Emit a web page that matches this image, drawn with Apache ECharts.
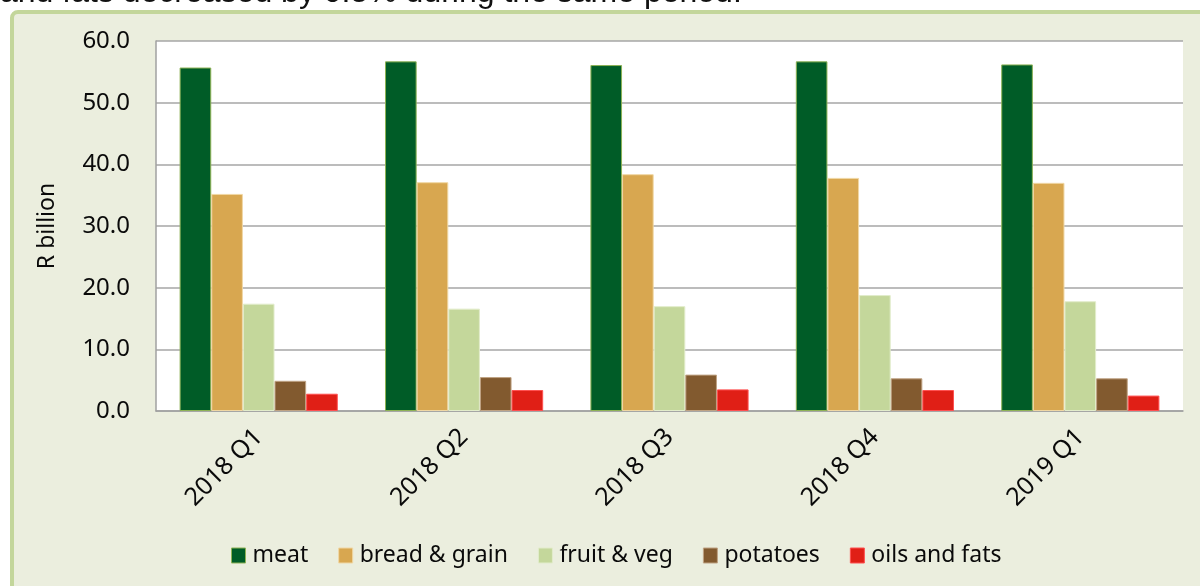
<!DOCTYPE html>
<html>
<head>
<meta charset="utf-8">
<title>Food spending by quarter</title>
<script src="https://cdn.jsdelivr.net/npm/echarts@6/dist/echarts.min.js"></script>
<style>
  html, body { margin: 0; padding: 0; background: #ffffff; }
  #chart { width: 1200px; height: 586px; }
</style>
</head>
<body>
<div id="chart"></div>
<script>
// Quarterly spending per food group, R billion
const quarters = ['2018 Q1', '2018 Q2', '2018 Q3', '2018 Q4', '2019 Q1'];
const meat = [55.7, 56.7, 56.1, 56.7, 56.2];
const breadGrain = [35.2, 37.1, 38.4, 37.8, 37.0];
const fruitVeg = [17.4, 16.6, 17.0, 18.8, 17.8];
const potatoes = [4.9, 5.5, 5.9, 5.3, 5.3];
const oilsFats = [2.8, 3.4, 3.5, 3.4, 2.5];
const yTicks = { min: 0, max: 60, interval: 10 };
const introLine = 'and fats decreased by 0.5% during the same period.';

const seriesDefs = [
  { name: 'meat', data: meat, color: '#005C27', border: '#8DB255' },
  { name: 'bread & grain', data: breadGrain, color: '#D8A750', border: '#F0D7A4' },
  { name: 'fruit & veg', data: fruitVeg, color: '#C4D79B', border: '#E2ECCB' },
  { name: 'potatoes', data: potatoes, color: '#825A2F', border: '#BFA283' },
  { name: 'oils and fats', data: oilsFats, color: '#E01F16', border: '#FF5050' }
];

const font = '"Noto Sans", "Open Sans", sans-serif';
const ink = '#0A0A0A';
const chart = echarts.init(document.getElementById('chart'), null, { renderer: 'canvas' });

chart.setOption({
  animation: false,
  backgroundColor: '#ffffff',
  graphic: [
    {
      type: 'rect',
      z: -10,
      shape: { x: 12, y: 12, width: 1200, height: 600, r: 6 },
      style: { fill: '#EBEEDE', stroke: '#C3D69B', lineWidth: 4 }
    },
    {
      type: 'text',
      left: 0,
      top: -23,
      style: {
        text: introLine,
        fill: '#111111',
        font: '32px "Liberation Sans", Arial, sans-serif'
      }
    }
  ],
  grid: {
    left: 156, right: 17, top: 41, bottom: 175,
    show: true, backgroundColor: '#ffffff', borderWidth: 0
  },
  legend: {
    left: 226,
    top: 539,
    itemWidth: 14,
    itemHeight: 15,
    itemGap: 30,
    icon: 'rect',
    textStyle: { fontFamily: font, fontSize: 23, color: ink, padding: [0, 0, 0, 2] },
    data: seriesDefs.map(s => ({
      name: s.name,
      itemStyle: { color: s.color, borderColor: s.border, borderWidth: 1 }
    }))
  },
  xAxis: {
    type: 'category',
    data: quarters,
    axisTick: { show: false },
    axisLine: { lineStyle: { color: '#A0A0A0', width: 1.5 } },
    axisLabel: {
      rotate: 45,
      margin: 22,
      fontFamily: font,
      fontSize: 25,
      color: ink
    }
  },
  yAxis: {
    type: 'value',
    min: yTicks.min,
    max: yTicks.max,
    interval: yTicks.interval,
    name: 'R billion',
    nameLocation: 'middle',
    nameGap: 97,
    nameTextStyle: { fontFamily: font, fontSize: 23, color: ink },
    axisLine: { show: true, lineStyle: { color: '#A0A0A0', width: 1.5 } },
    axisTick: { show: false },
    splitLine: { lineStyle: { color: '#A6A6A6', width: 1.5 } },
    axisLabel: {
      margin: 26,
      fontFamily: font,
      fontSize: 24,
      color: ink,
      formatter: v => v.toFixed(1)
    }
  },
  series: seriesDefs.map(s => ({
    name: s.name,
    type: 'bar',
    data: s.data,
    barGap: '0%',
    barCategoryGap: '23%',
    itemStyle: { color: s.color, borderColor: s.border, borderWidth: 1 }
  }))
});
</script>
</body>
</html>
